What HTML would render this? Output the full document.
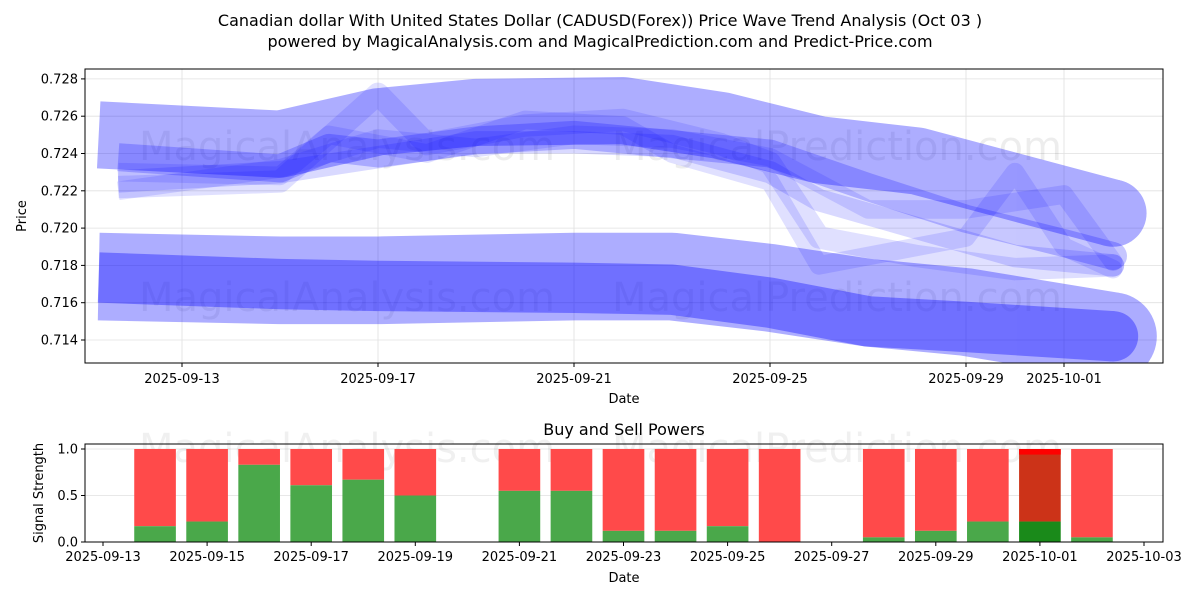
<!DOCTYPE html>
<html><head><meta charset="utf-8"><style>
body{margin:0;background:#fff;font-family:"Liberation Sans","DejaVu Sans",sans-serif;}
svg text{font-family:"DejaVu Sans","Liberation Sans",sans-serif;}
</style></head><body>
<svg id="c" width="1200" height="600" xmlns="http://www.w3.org/2000/svg">
<rect width="1200" height="600" fill="#fff"/>
<text x="600" y="26" font-size="16" text-anchor="middle">Canadian dollar With United States Dollar (CADUSD(Forex)) Price Wave Trend Analysis (Oct 03 )</text>
<text x="600" y="47" font-size="16" text-anchor="middle">powered by MagicalAnalysis.com and MagicalPrediction.com and Predict-Price.com</text>
<g id="topg"></g><g id="botg"></g>
</svg>
<script>
// ---- top chart data ----
const waveWidths=[0.0036,0.0015,0.0012,0.0010,0.0010,0.0012,0.0047,0.0027];
const waveOpac=[0.32,0.22,0.12,0.12,0.12,0.15,0.32,0.35];
const waveDays=[
[0.3,4,6,8,11,13,15,17,19,21],
[0.7,4,5,6,8,10,12,14,16,18,20,21],
[0.7,4,6,7,9,11,13,14,15,17,19,21],
[0.7,4,5,7,9,11,12,14,15,18,19,20,21],
[0.7,4,6,8,10,12,14,16,18,20,21],
[0.7,4,6,8,10,12,14,15,17,19,21],
[0.3,4,6,10,12,14,16,18,21],
[0.3,4,6,10,12,14,16,18,21]];
const waveVals=[
[0.7250,0.7245,0.7257,0.7262,0.7263,0.7255,0.7242,0.7236,0.7222,0.7208],
[0.7238,0.7232,0.7243,0.7240,0.7247,0.7250,0.7245,0.7240,0.7222,0.7205,0.7192,0.7185],
[0.7222,0.7225,0.7272,0.7245,0.7255,0.7258,0.7245,0.7235,0.7195,0.7185,0.7178,0.7180],
[0.7230,0.7228,0.7250,0.7240,0.7258,0.7255,0.7240,0.7225,0.7180,0.7195,0.7230,0.7190,0.7178],
[0.7220,0.7232,0.7248,0.7243,0.7250,0.7248,0.7238,0.7210,0.7210,0.7218,0.7182],
[0.7225,0.7230,0.7238,0.7246,0.7246,0.7244,0.7230,0.7215,0.7200,0.7185,0.7180],
[0.7174,0.7172,0.7172,0.7174,0.7174,0.7168,0.7160,0.7155,0.7142],
[0.71735,0.7170,0.7169,0.7168,0.7167,0.7160,0.7150,0.7147,0.7142]];
const priceTicks=[0.714,0.716,0.718,0.720,0.722,0.724,0.726,0.728];
const topDateTicks=[2,6,10,14,18,20];
const topDateLabels=["2025-09-13","2025-09-17","2025-09-21","2025-09-25","2025-09-29","2025-10-01"];
// ---- bottom chart data ----
const barDays=[1,2,3,4,5,6,8,9,10,11,12,13,15,16,17,18,19];
const buyVals=[0.17,0.22,0.83,0.61,0.67,0.5,0.55,0.55,0.12,0.12,0.17,0.0,0.05,0.12,0.22,0.22,0.05];
const botTicks=[0,2,4,6,8,10,12,14,16,18,20];
const botLabels=["2025-09-13","2025-09-15","2025-09-17","2025-09-19","2025-09-21","2025-09-23","2025-09-25","2025-09-27","2025-09-29","2025-10-01","2025-10-03"];
const sigTicks=[0,0.5,1.0];

const NS="http://www.w3.org/2000/svg";
function mk(p,t,a,txt){const e=document.createElementNS(NS,t);for(const k in a)e.setAttribute(k,a[k]);if(txt!==undefined)e.textContent=txt;p.appendChild(e);return e;}
const gTop=document.getElementById('topg'),gBot=document.getElementById('botg');
const X0=85,X1=1163,Y0=69,Y1=363;
const xT=d=>84+49*d, yT=v=>340-(v-0.714)/0.002*37.3;
const ppu=37.3/0.002;
priceTicks.forEach(v=>{const g=mk(gTop,'line',{x1:X0,x2:X1,y1:yT(v),y2:yT(v),stroke:'#e0e0e0','stroke-width':0.8});

});
topDateTicks.forEach(d=>{const g=mk(gTop,'line',{x1:xT(d),x2:xT(d),y1:Y0,y2:Y1,stroke:'#e0e0e0','stroke-width':0.8});

});
[["MagicalAnalysis.com",347,160],["MagicalPrediction.com",837,160],["MagicalAnalysis.com",347,311],["MagicalPrediction.com",837,311]].forEach(w=>{const t=mk(gTop,'text',{x:w[1],y:w[2],'font-size':40,fill:'#000','fill-opacity':0.07,'text-anchor':'middle'},w[0]);

});
const clip=mk(gTop,'clipPath',{id:'cp'});mk(clip,'rect',{x:X0,y:Y0,width:X1-X0,height:Y1-Y0});
const wg=mk(gTop,'g',{'clip-path':'url(#cp)'});
waveVals.forEach((vals,i)=>{const pts=vals.map((v,j)=>xT(waveDays[i][j])+','+yT(v)).join(' ');
const grp=mk(wg,'g',{opacity:waveOpac[i]});


mk(grp,'polyline',{points:pts,fill:'none',stroke:'#0000ff','stroke-width':waveWidths[i]*ppu,'stroke-linejoin':'round','stroke-linecap':'butt'});
const n=vals.length-1;
mk(grp,'circle',{cx:xT(waveDays[i][n]),cy:yT(vals[n]),r:waveWidths[i]*ppu/2,fill:'#0000ff'});
});
mk(gTop,'rect',{x:X0,y:Y0,width:X1-X0,height:Y1-Y0,fill:'none',stroke:'#000','stroke-width':1});
priceTicks.forEach(v=>{mk(gTop,'line',{x1:X0-4,x2:X0,y1:yT(v),y2:yT(v),stroke:'#000'});
const t=mk(gTop,'text',{x:X0-7,y:yT(v)+4.5,'font-size':13,'text-anchor':'end'},v.toFixed(3));

});
topDateTicks.forEach((d,i)=>{mk(gTop,'line',{x1:xT(d),x2:xT(d),y1:Y1,y2:Y1+4,stroke:'#000'});
const t=mk(gTop,'text',{x:xT(d),y:Y1+20,'font-size':13,'text-anchor':'middle'},topDateLabels[i]);

});
let tt=mk(gTop,'text',{x:624,y:403,'font-size':13,'text-anchor':'middle'},'Date');

tt=mk(gTop,'text',{x:26,y:216,'font-size':13,'text-anchor':'middle',transform:'rotate(-90 26 216)'},'Price');


const B0=444,B1=542;
const xB=d=>103+52.05*d, yB=v=>542-v*93;
const bw=0.8*52.05;
sigTicks.forEach(v=>{const g=mk(gBot,'line',{x1:X0,x2:X1,y1:yB(v),y2:yB(v),stroke:'#e0e0e0','stroke-width':0.8});

});
[["MagicalAnalysis.com",347,462],["MagicalPrediction.com",837,462]].forEach(w=>{const t2=mk(gBot,'text',{x:w[1],y:w[2],'font-size':40,fill:'#000','fill-opacity':0.06,'text-anchor':'middle'},w[0]);

});
barDays.forEach((d,i)=>{const b=buyVals[i];const last=d===18;
const r=mk(gBot,'rect',{x:xB(d)-bw/2,y:yB(1),width:bw,height:yB(b)-yB(1),fill:last?'#cc3318':'#ff4a4a'});


if(last){mk(gBot,'rect',{x:xB(d)-bw/2,y:yB(1),width:bw,height:yB(0.94)-yB(1),fill:'#ff0000'});}
const g=mk(gBot,'rect',{x:xB(d)-bw/2,y:yB(b),width:bw,height:yB(0)-yB(b),fill:last?'#1a8a1a':'#4aa84a'});

});
mk(gBot,'rect',{x:X0,y:B0,width:X1-X0,height:B1-B0,fill:'none',stroke:'#000'});
sigTicks.forEach(v=>{mk(gBot,'line',{x1:X0-4,x2:X0,y1:yB(v),y2:yB(v),stroke:'#000'});
const t2=mk(gBot,'text',{x:X0-7,y:yB(v)+4.5,'font-size':13,'text-anchor':'end'},v.toFixed(1));

});
botTicks.forEach((d,i)=>{mk(gBot,'line',{x1:xB(d),x2:xB(d),y1:B1,y2:B1+4,stroke:'#000'});
const t2=mk(gBot,'text',{x:xB(d),y:B1+19,'font-size':13,'text-anchor':'middle'},botLabels[i]);

});
tt=mk(gBot,'text',{x:624,y:582,'font-size':13,'text-anchor':'middle'},'Date');

tt=mk(gBot,'text',{x:624,y:435,'font-size':16,'text-anchor':'middle'},'Buy and Sell Powers');

tt=mk(gBot,'text',{x:43,y:493,'font-size':13,'text-anchor':'middle',transform:'rotate(-90 43 493)'},'Signal Strength');

</script>
</body></html>
